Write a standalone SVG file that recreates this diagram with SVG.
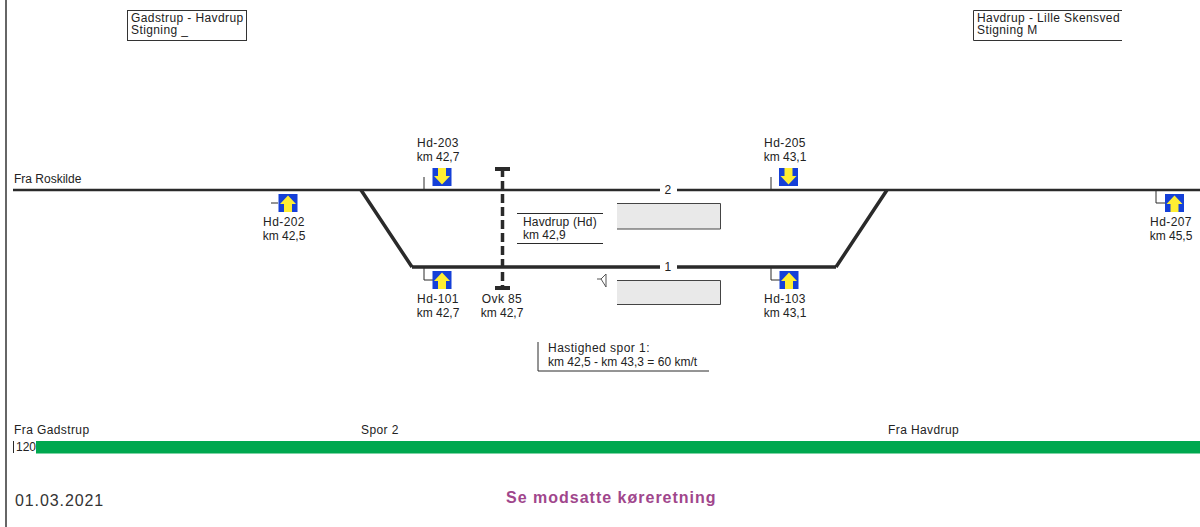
<svg xmlns="http://www.w3.org/2000/svg" width="1200" height="527" viewBox="0 0 1200 527">
<style>
text{font-family:"Liberation Sans",Arial,sans-serif;font-size:12px;fill:#222;letter-spacing:.4px}
.k{letter-spacing:0}
.c{text-anchor:middle}
.ln{stroke:#2a2a2a;stroke-width:1;fill:none}
.track{stroke:#2a2a2a;fill:none}
.sig{fill:#1540d8}
.ar{fill:#ffee33}
.pf{fill:#e9e9e9}
.pl{fill:none;stroke:#444;stroke-width:1}
</style>
<defs>
<g id="up"><rect class="sig" width="19" height="18"/><path class="ar" d="M9.500 1.500L17.500 10H13.500V18H5.500V10H1.500Z"/></g>
<g id="down"><rect class="sig" width="19" height="18"/><path class="ar" d="M9.500 16.500L17.500 8H13.500V0H5.500V8H1.500Z"/></g>
</defs>
<rect width="1200" height="527" fill="#fff"/>
<path d="M6 0V527" stroke="#333" stroke-width="1.500" fill="none"/>

<g id="connectors">
<path class="track" stroke-width="2.500" d="M13 190H660M677 190H1200"/>
<path class="track" stroke-width="3.500" d="M412 267H660M677 267H836"/>
<path class="track" stroke-width="3.500" d="M361 190L412 267M887 190L836 267"/>
<path class="track" stroke-width="3.500" stroke-dasharray="9 4" d="M502.500 168V288"/>
<path class="track" stroke-width="4" d="M495 169H510M495 288H510"/>
<path class="ln" d="M424 177V190M771 177V190M424 268V280H433M771 268V280H780M271 203H278M1156 190V203H1165"/>
</g>

<g id="box-left"><rect x="127.500" y="10.500" width="119" height="30" fill="#fff" stroke="#333"/><text x="131" y="22">Gadstrup - Havdrup</text><text x="131" y="34">Stigning _</text></g>
<g id="box-right"><path d="M1122 10.500H973.500V40.500H1122" fill="#fff" stroke="#333"/><text x="977" y="22">Havdrup - Lille Skensved</text><text x="977" y="34">Stigning M</text></g>

<text id="from-roskilde" class="k" x="14" y="183">Fra Roskilde</text>
<text id="track-2" class="c" x="668" y="194">2</text>
<text id="track-1" class="c" x="668" y="271">1</text>

<g id="hd-202"><use href="#up" x="278.500" y="194"/><text class="c" x="284" y="226">Hd-202</text><text class="c k" x="284" y="240">km 42,5</text></g>
<g id="hd-203"><use href="#down" x="432.500" y="168"/><text class="c" x="438" y="147">Hd-203</text><text class="c k" x="438" y="161">km 42,7</text></g>
<g id="hd-101"><use href="#up" x="432.500" y="271"/><text class="c" x="438" y="303">Hd-101</text><text class="c k" x="438" y="317">km 42,7</text></g>
<g id="ovk"><text class="c" x="502" y="303">Ovk 85</text><text class="c k" x="502" y="317">km 42,7</text></g>
<g id="hd-205"><use href="#down" x="779" y="168"/><text class="c" x="785" y="147">Hd-205</text><text class="c k" x="785" y="161">km 43,1</text></g>
<g id="hd-103"><use href="#up" x="779.500" y="271"/><text class="c" x="785" y="303">Hd-103</text><text class="c k" x="785" y="317">km 43,1</text></g>
<g id="hd-207"><use href="#up" x="1165" y="194"/><text class="c" x="1171" y="226">Hd-207</text><text class="c k" x="1171" y="240">km 45,5</text></g>

<g id="station"><path class="ln" d="M517 213.500H603M517 243.500H603"/><text style="letter-spacing:.15px" x="523" y="226">Havdrup (Hd)</text><text class="k" x="523" y="239">km 42,9</text></g>
<g id="platform-upper"><rect class="pf" x="617" y="203" width="103.500" height="26"/><path class="pl" d="M617 203.500H720.500V229H617"/></g>
<g id="platform-lower"><rect class="pf" x="617" y="280" width="103.500" height="25"/><path class="pl" d="M617 280.500H720.500V304.500H617"/></g>
<g id="signal-small"><path d="M597 279H601L606 274V287L601 279" fill="none" stroke="#555"/></g>

<g id="speed"><path class="ln" d="M538 342V371H709"/><text style="letter-spacing:.47px" x="548" y="352">Hastighed spor 1:</text><text class="k" x="548" y="366">km 42,5 - km 43,3 = 60 km/t</text></g>

<text id="from-gadstrup" x="14" y="434">Fra Gadstrup</text>
<text id="spor" x="361" y="434">Spor 2</text>
<text id="from-havdrup" x="888" y="434">Fra Havdrup</text>
<g id="bar"><rect x="36" y="441" width="1164" height="12.500" fill="#00a84f"/><path class="ln" d="M13.500 441V453"/><text class="k" x="16" y="451">120</text></g>
<text id="date" x="15" y="506" style="font-size:16px;fill:#333;letter-spacing:.9px">01.03.2021</text>
<text id="note" x="506" y="503" style="font-size:16px;font-weight:bold;fill:#a0468c;letter-spacing:1px">Se modsatte køreretning</text>
</svg>
